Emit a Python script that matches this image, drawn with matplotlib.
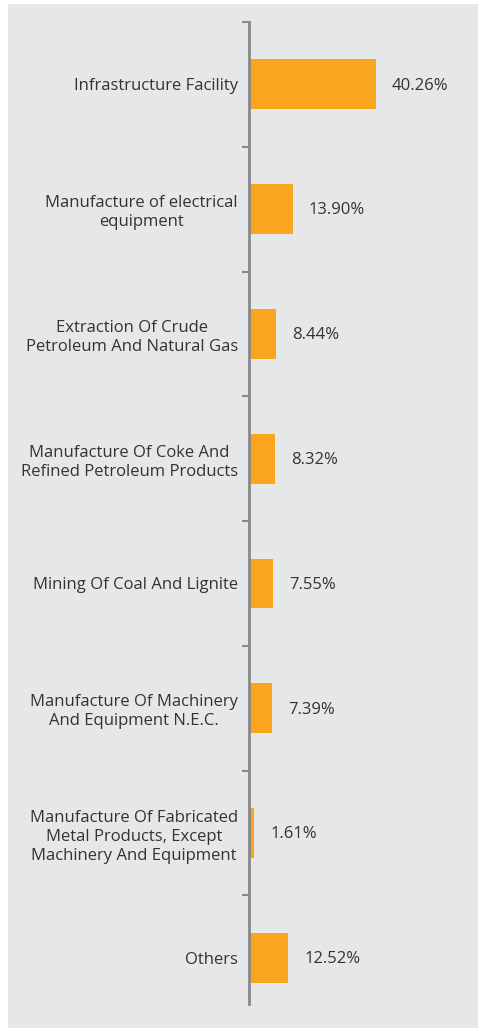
import numpy as np
import matplotlib.pyplot as plt
from matplotlib.patches import Rectangle

# sector shares, top to bottom
sectors = [
    "Infrastructure Facility",
    "Manufacture of electrical\nequipment",
    "Extraction Of Crude\nPetroleum And Natural Gas",
    "Manufacture Of Coke And\nRefined Petroleum Products",
    "Mining Of Coal And Lignite",
    "Manufacture Of Machinery\nAnd Equipment N.E.C.",
    "Manufacture Of Fabricated\nMetal Products, Except\nMachinery And Equipment",
    "Others",
]
shares = [40.26, 13.90, 8.44, 8.32, 7.55, 7.39, 1.61, 12.52]

bg = "#e6e7e8"
bar_color = "#f9a61e"
text_color = "#333333"

plt.rcParams['font.family'] = ['Open Sans', 'DejaVu Sans']

W, H = 482, 1028
fig = plt.figure(figsize=(W / 100, H / 100), dpi=100)
fig.patch.set_facecolor("white")
fig.patches.append(Rectangle((8 / W, 0), 470 / W, 1 - 4 / H,
                             transform=fig.transFigure, facecolor=bg,
                             edgecolor="none", zorder=-10))

ax = fig.add_axes([249 / W, 1 - 1004 / H, 229 / W, 982 / H])
ax.set_facecolor("none")

y = np.arange(len(sectors))
ax.barh(y, shares, height=0.4, color=bar_color, zorder=2)
for yi, v in zip(y, shares):
    ax.text(v + 5.1, yi + 0.01, f"{v:.2f}%", va="center", ha="left",
            fontsize=12, color=text_color)

ax.set_xlim(0, 72.6)
ax.set_ylim(len(sectors) - 0.63, -0.5)
ax.set_xticks([])

ax.set_yticks(y)
ax.set_yticklabels(sectors, fontsize=12, color=text_color,
                   multialignment="center", linespacing=1.25)
ax.tick_params(axis="y", which="major", length=0, pad=8)
ax.set_yticks(np.arange(len(sectors)) - 0.5, minor=True)
ax.tick_params(axis="y", which="minor", length=5, width=1.5, color="#888888")

for s in ["top", "right", "bottom"]:
    ax.spines[s].set_visible(False)
ax.spines["left"].set_color("#888888")
ax.spines["left"].set_linewidth(2)

fig.savefig("out.png", dpi=100)
